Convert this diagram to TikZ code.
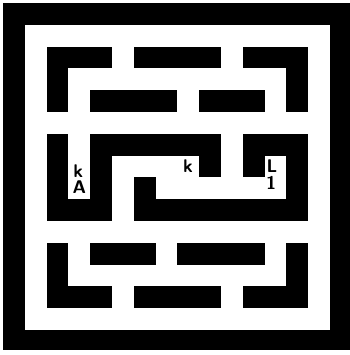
\documentclass[tikz,border=0pt]{standalone}
\begin{document}
\begin{tikzpicture}[
    x=0.5cm, y=-0.5cm,
    wall/.style={fill=black},
    floor/.style={fill=white},
    letter/.style={font=\sffamily\bfseries\fontsize{12}{12}\selectfont, inner sep=0pt}
]
\useasboundingbox (-0.138, -0.138) rectangle (15.92, 16.15);

%  -- Outer frame  --
\fill[wall]  (0, 0) rectangle (15.92, 15.92);
\fill[floor] (1, 1) rectangle (15, 15);

%  -- Upper walls  --
\foreach \a/\b/\c/\d in {2/2/5/3, 2/2/3/5, 6/2/10/3, 11/2/14/3, 13/2/14/5, 4/4/8/5, 9/4/12/5} {
  \fill[wall] (\a, \b) rectangle (\c, \d);
}

%  -- Middle: left hook  --
\foreach \a/\b/\c/\d in {2/6/3/10, 2/9/5/10, 4/6/5/10, 4/6/10/7, 9/6/10/8} {
  \fill[wall] (\a, \b) rectangle (\c, \d);
}

%  -- Middle: right hook  --
\foreach \a/\b/\c/\d in {11/6/12/8, 11/6/14/7, 13/6/14/10, 6/9/14/10, 6/8/7/10} {
  \fill[wall] (\a, \b) rectangle (\c, \d);
}

%  -- Lower walls  --
\foreach \a/\b/\c/\d in {2/11/3/14, 2/13/5/14, 4/11/7/12, 8/11/12/12, 6/13/10/14, 11/13/14/14, 13/11/14/14} {
  \fill[wall] (\a, \b) rectangle (\c, \d);
}

%  -- Letters in the dead ends  --
\node[letter] (kleft)    at (3.45, 7.70) {k};
\node[letter] (aleft)    at (3.50, 8.45) {A};
\node[letter] (kmid)     at (8.49, 7.48) {k};
\node[letter] (lright)   at (12.34, 7.48) {L};
\node[letter] (oneright) at (12.30, 8.26) {1};

\end{tikzpicture}
\end{document}
